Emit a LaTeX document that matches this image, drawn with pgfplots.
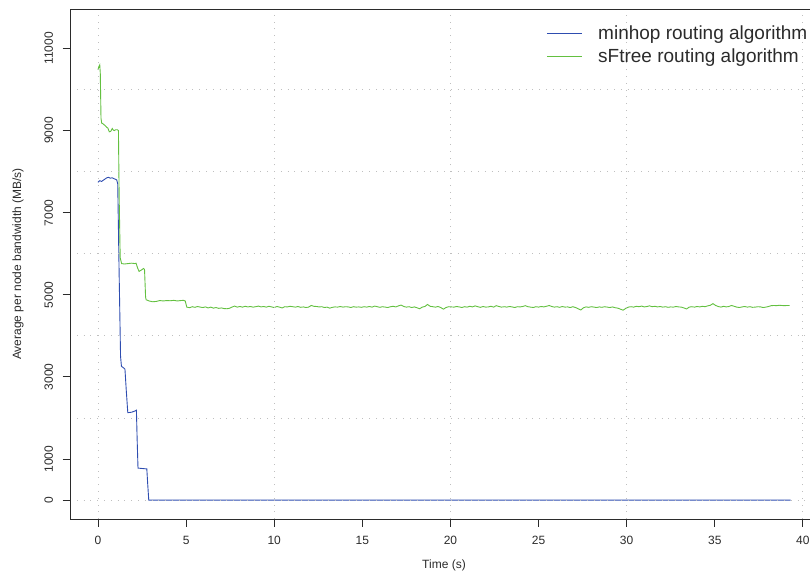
\documentclass[border=0pt]{standalone}
\usepackage{fontspec}
\setmainfont{Liberation Sans}
\usepackage{pgfplots}
\pgfplotsset{compat=1.18}
\definecolor{minhop}{HTML}{2E4DB0}
\definecolor{sftree}{HTML}{63C040}
\definecolor{fg}{HTML}{2B2B2B}
\begin{document}
\begin{tikzpicture}[x=1pt,y=1pt]
\begin{axis}[
    at={(70pt,62pt)}, anchor=south west,
    scale only axis, width=748pt, height=510pt,
    xmin=-1.589, xmax=40.86,
    ymin=-460, ymax=11960,
    axis on top,
    font=\fontsize{12}{14}\selectfont,
    /pgf/number format/assume math mode=true,
    /pgf/number format/1000 sep={},
    scaled y ticks=false, scaled x ticks=false,
    axis line style={fg, line width=0.9pt},
    every tick/.style={fg, line width=0.9pt},
    tick align=outside, major tick length=7.5pt, minor tick length=0pt,
    xtick pos=bottom, ytick pos=left,
    xtick={0,5,...,40},
    ytick={0,1000,3000,5000,7000,9000,11000},
    yticklabels={0,1000,3000,5000,7000,9000,11000},
    minor xtick={0,10,20,30,40},
    minor ytick={0,2000,4000,6000,8000,10000},
    grid=minor,
    minor grid style={black!25, line width=0.9pt, dash pattern=on 0.9pt off 5.9pt},
    ticklabel style={text=fg},
    xticklabel style={yshift=-6pt},
    yticklabel style={rotate=90, anchor=south, yshift=6pt},
    xlabel={Time (s)}, ylabel={Average per node bandwidth (MB/s)},
    xlabel style={yshift=-8pt},
    ylabel style={yshift=14pt},
    label style={text=fg},
    legend style={draw=none, fill=none, at={(axis cs:25.43,11560)}, anchor=north west,
        font=\fontsize{19}{23}\selectfont, text=fg, inner sep=0pt,
        nodes={inner sep=0pt}, column sep=16pt, row sep=7.5pt},
    legend cell align=left,
    legend image code/.code={\draw[#1] (0pt,0pt) -- (35pt,0pt);},
  ]
  \addplot[minhop, line width=0.9pt] coordinates {
(0,7740) (0.1,7780) (0.2,7760) (0.3,7790) (0.4,7820) (0.5,7850) (0.6,7860)
(0.7,7840) (0.8,7850) (0.9,7830) (1.0,7810) (1.06,7800) (1.12,7700) (1.2,5500)
(1.28,3500) (1.33,3260) (1.45,3220) (1.53,3190) (1.6,2700) (1.69,2130) (1.9,2140)
(2.1,2170) (2.18,2190) (2.22,1500) (2.27,780) (2.5,770) (2.77,760) (2.82,400)
(2.88,0) (39.3,0)
  };
  \addplot[sftree, line width=0.9pt] coordinates {
(0.00,10480) (0.05,10560) (0.10,10600) (0.13,10400) (0.17,9300) (0.21,9180)
(0.30,9160) (0.40,9120) (0.49,9080) (0.56,9060) (0.64,8970) (0.72,8980)
(0.81,9050) (0.87,9010) (0.93,9000) (1.00,9020) (1.10,9020) (1.16,9000)
(1.20,7400) (1.26,5900) (1.34,5760) (1.5,5750) (1.7,5760) (1.9,5770)
(2.1,5760) (2.16,5770) (2.25,5650) (2.33,5570) (2.45,5600) (2.58,5640)
(2.64,5620) (2.70,4950) (2.73,4880) (2.9,4850) (3.1,4830) (3.33,4840)
(3.5,4860) (3.7,4850) (3.9,4860) (4.1,4855) (4.3,4865) (4.5,4850) (4.7,4860)
(4.85,4865) (4.95,4850)
(5.04,4700) (5.2,4685) (5.35,4710) (5.5,4695) (5.65,4715) (5.8,4700) (5.95,4690)
(6.1,4705) (6.25,4680) (6.4,4700) (6.55,4675) (6.7,4690) (6.85,4670) (7.0,4680)
(7.15,4665) (7.3,4660) (7.45,4670) (7.6,4700) (7.75,4725) (7.9,4700) (8.05,4715)
(8.2,4700) (8.35,4720) (8.5,4705) (8.65,4715) (8.8,4700) (8.95,4710) (9.1,4725)
(9.25,4705) (9.4,4715) (9.55,4700) (9.7,4720) (9.85,4705) (10.0,4690) (10.15,4715)
(10.3,4700) (10.45,4680) (10.6,4710) (10.75,4705) (10.9,4720) (11.05,4710)
(11.2,4700) (11.35,4715) (11.5,4695) (11.65,4705) (11.8,4690) (11.95,4700)
(12.1,4740) (12.25,4720) (12.4,4715) (12.55,4705) (12.7,4710) (12.85,4690)
(13.0,4700) (13.15,4675) (13.3,4695) (13.45,4705) (13.6,4700) (13.75,4715)
(13.9,4700) (14.05,4710) (14.2,4705) (14.35,4690) (14.5,4710) (14.65,4700)
(14.8,4705) (14.95,4695) (15.1,4710) (15.25,4700) (15.4,4715) (15.55,4700)
(15.7,4725) (15.85,4710) (16.0,4695) (16.15,4710) (16.3,4700) (16.45,4690)
(16.6,4710) (16.75,4720) (16.9,4705) (17.05,4730) (17.2,4750) (17.35,4715)
(17.5,4700) (17.65,4710) (17.8,4690) (17.95,4705) (18.1,4685) (18.25,4660)
(18.4,4700) (18.55,4715) (18.7,4765) (18.85,4720) (19.0,4710) (19.15,4700)
(19.3,4715) (19.45,4690) (19.6,4650) (19.75,4690) (19.9,4710) (20.05,4705)
(20.2,4700) (20.35,4715) (20.5,4705) (20.65,4690) (20.8,4710) (20.95,4700)
(21.1,4720) (21.25,4705) (21.4,4730) (21.55,4710) (21.7,4695) (21.85,4715)
(22.0,4700) (22.15,4705) (22.3,4720) (22.45,4700) (22.6,4735) (22.75,4715)
(22.9,4700) (23.05,4710) (23.2,4700) (23.35,4715) (23.5,4705) (23.65,4690)
(23.8,4710) (23.95,4705) (24.1,4715) (24.25,4735) (24.4,4710) (24.55,4700)
(24.7,4690) (24.85,4710) (25.0,4700) (25.15,4715) (25.3,4705) (25.45,4720)
(25.6,4740) (25.75,4715) (25.9,4700) (26.05,4710) (26.2,4695) (26.35,4715)
(26.5,4700) (26.65,4705) (26.8,4690) (26.95,4710) (27.1,4690) (27.25,4660)
(27.4,4630) (27.55,4685) (27.7,4705) (27.85,4695) (28.0,4710) (28.15,4700)
(28.3,4690) (28.45,4705) (28.6,4695) (28.75,4710) (28.9,4700) (29.05,4690)
(29.2,4705) (29.35,4685) (29.5,4675) (29.65,4650) (29.8,4625) (29.95,4670)
(30.1,4700) (30.25,4710) (30.4,4700) (30.55,4720) (30.7,4710) (30.85,4725)
(31.0,4705) (31.15,4715) (31.3,4730) (31.45,4710) (31.6,4720) (31.75,4705)
(31.9,4715) (32.05,4700) (32.2,4710) (32.35,4695) (32.5,4705) (32.65,4700)
(32.8,4715) (32.95,4705) (33.1,4700) (33.25,4680) (33.4,4655) (33.55,4700)
(33.7,4710) (33.85,4700) (34.0,4715) (34.15,4705) (34.3,4720) (34.45,4710)
(34.6,4730) (34.75,4745) (34.9,4785) (35.05,4740) (35.2,4715) (35.35,4700)
(35.5,4720) (35.65,4705) (35.8,4715) (35.95,4740) (36.1,4720) (36.25,4700)
(36.4,4690) (36.55,4705) (36.7,4715) (36.85,4700) (37.0,4710) (37.15,4695)
(37.3,4700) (37.45,4710) (37.6,4705) (37.75,4690) (37.9,4700) (38.05,4715)
(38.2,4735) (38.35,4740) (38.5,4735) (38.65,4745) (38.8,4740) (38.95,4735)
(39.1,4740) (39.25,4740)
  };
  \legend{minhop routing algorithm, sFtree routing algorithm}
\end{axis}
\pgfresetboundingbox
\useasboundingbox (0pt,0pt) rectangle (810pt,581pt);
\end{tikzpicture}
\end{document}
